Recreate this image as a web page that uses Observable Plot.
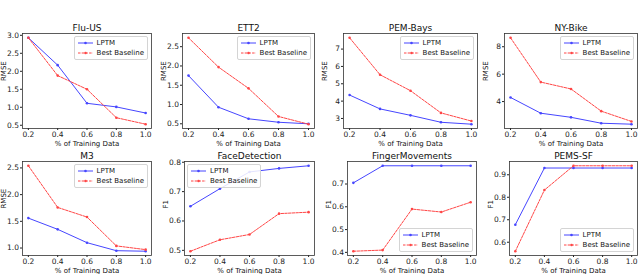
<!DOCTYPE html>
<html><head><meta charset="utf-8">
<script src="https://cdn.jsdelivr.net/npm/d3@7"></script>
<script src="https://cdn.jsdelivr.net/npm/@observablehq/plot@0.6"></script>
<style>
body{margin:0;background:#fff;}
#root{position:relative;width:640px;height:274px;overflow:hidden;font-family:"DejaVu Sans",sans-serif;background:#fff;}
.panel{position:absolute;}
.legend{position:absolute;border:1px solid #d4d4d4;border-radius:2px;background:rgba(255,255,255,0.85);font-size:7px;line-height:10px;padding:1px 3px 1px 3px;color:#111;white-space:nowrap;}
.legend .row{display:flex;align-items:center;height:10px;}
.legend svg{margin-right:4px;}
</style></head><body><div id="root"></div>
<script>
// ---- data ----
const trainFrac = [0.2, 0.4, 0.6, 0.8, 1.0];
const xTicks = [0.2, 0.4, 0.6, 0.8, 1.0];
const seriesNames = ["LPTM", "Best Baseline"];
const titles = ["Flu-US", "ETT2", "PEM-Bays", "NY-Bike", "M3", "FaceDetection", "FingerMovements", "PEMS-SF"];
const yLabels = ["RMSE", "RMSE", "RMSE", "RMSE", "RMSE", "F1", "F1", "F1"];

const fluLPTM  = [2.93, 2.17, 1.11, 1.01, 0.84];
const fluBase  = [2.93, 1.88, 1.50, 0.71, 0.53];
const ettLPTM  = [1.75, 0.93, 0.63, 0.54, 0.50];
const ettBase  = [2.73, 1.97, 1.42, 0.69, 0.49];
const pemLPTM  = [4.35, 3.55, 3.18, 2.78, 2.67];
const pemBase  = [7.65, 5.52, 4.60, 3.32, 2.85];
const bikeLPTM = [4.30, 3.15, 2.85, 2.42, 2.35];
const bikeBase = [8.65, 5.42, 4.92, 3.30, 2.55];
const m3LPTM   = [1.56, 1.35, 1.10, 0.95, 0.94];
const m3Base   = [2.54, 1.76, 1.58, 1.04, 0.97];
const faceLPTM = [0.650, 0.710, 0.767, 0.779, 0.788];
const faceBase = [0.497, 0.536, 0.554, 0.625, 0.630];
const fingLPTM = [0.705, 0.780, 0.780, 0.780, 0.780];
const fingBase = [0.405, 0.410, 0.590, 0.577, 0.620];
const sfLPTM   = [0.678, 0.930, 0.930, 0.930, 0.930];
const sfBase   = [0.560, 0.832, 0.940, 0.940, 0.940];

const yTicks = [
  [0.5, 1.0, 1.5, 2.0, 2.5, 3.0],
  [0.5, 1.0, 1.5, 2.0, 2.5],
  [3, 4, 5, 6, 7],
  [4, 6, 8],
  [1.0, 1.5, 2.0, 2.5],
  [0.5, 0.6, 0.7, 0.8],
  [0.4, 0.5, 0.6, 0.7],
  [0.6, 0.7, 0.8, 0.9]
];
const yFormats = [".1f", ".1f", "d", "d", ".1f", ".1f", ".1f", ".1f"];
const lptmSeries = [fluLPTM, ettLPTM, pemLPTM, bikeLPTM, m3LPTM, faceLPTM, fingLPTM, sfLPTM];
const baseSeries = [fluBase, ettBase, pemBase, bikeBase, m3Base, faceBase, fingBase, sfBase];
const legendLocs = ["upper right", "upper right", "upper right", "upper right", "upper right", "upper left", "lower right", "lower right"];

// ---- layout (frame boxes: left, top, right, bottom) ----
const frames = [
  [22, 33, 151, 128], [182, 33, 314, 128], [343, 33, 477, 128], [504, 33, 637, 128],
  [22, 161, 151, 255], [184, 161, 314, 255], [347, 161, 476, 255], [509, 161, 637, 255]
];
const BLUE = "#4646ff", RED = "#ff4646";
const mL = 26, mR = 3, mT = 18, mB = 19;
const root = document.getElementById("root");

function legendEl(loc) {
  const d = document.createElement("div");
  d.className = "legend";
  const sw = (c, dash) => `<svg width="15" height="6"><line x1="0" x2="15" y1="3" y2="3" stroke="${c}" stroke-width="1" ${dash ? 'stroke-dasharray="2.5,1.2"' : ''}/><circle cx="7.5" cy="3" r="1.3" fill="${c}"/></svg>`;
  d.innerHTML = `<div class="row">${sw(BLUE, false)}<span>${seriesNames[0]}</span></div><div class="row">${sw(RED, true)}<span>${seriesNames[1]}</span></div>`;
  const inset = 3;
  if (loc.includes("upper")) d.style.top = (mT + inset) + "px"; else d.style.bottom = (mB + inset) + "px";
  if (loc.includes("right")) d.style.right = (mR + inset) + "px"; else d.style.left = (mL + inset) + "px";
  return d;
}

titles.forEach((title, i) => {
  const [fl, ft, fr, fb] = frames[i];
  const w = fr - fl + mL + mR, h = fb - ft + mT + mB;
  const rows = trainFrac.map((x, k) => ({x, lptm: lptmSeries[i][k], base: baseSeries[i][k]}));
  const all = lptmSeries[i].concat(baseSeries[i]);
  const [lo, hi] = d3.extent(all);
  const pad = (hi - lo) * 0.05;
  const plot = Plot.plot({
    width: w, height: h,
    marginLeft: mL, marginRight: mR, marginTop: mT, marginBottom: mB,
    style: {fontFamily: '"DejaVu Sans", sans-serif', fontSize: "7.5px", color: "#222", background: "transparent", overflow: "visible"},
    x: {domain: [0.16, 1.04], inset: 0},
    y: {domain: [lo - pad, hi + pad], inset: 0},
    marks: [
      Plot.axisX({ticks: xTicks, tickFormat: d3.format(".1f"), tickSize: 2, tickPadding: 1, label: null, fontSize: 7.5}),
      Plot.axisY({ticks: yTicks[i], tickFormat: d3.format(yFormats[i]), tickSize: 2, tickPadding: 1.5, label: null, fontSize: 7.5}),
      Plot.line(rows, {x: "x", y: "lptm", stroke: BLUE, strokeWidth: 1}),
      Plot.dot(rows, {x: "x", y: "lptm", r: 1.3, fill: BLUE}),
      Plot.line(rows, {x: "x", y: "base", stroke: RED, strokeWidth: 1, strokeDasharray: "2.5,1.2"}),
      Plot.dot(rows, {x: "x", y: "base", r: 1.3, fill: RED}),
      Plot.frame({stroke: "#333", strokeWidth: 0.8}),
      Plot.text([title], {frameAnchor: "top", dy: -3, lineAnchor: "bottom", fontSize: 9, fill: "#111", text: d => d}),
      Plot.text([yLabels[i]], {frameAnchor: "left", rotate: -90, dx: -19, fontSize: 7, fill: "#111", text: d => d}),
      Plot.text(["% of Training Data"], {frameAnchor: "bottom", dy: 15, lineAnchor: "middle", fontSize: 7, fill: "#111", text: d => d})
    ]
  });
  const div = document.createElement("div");
  div.className = "panel";
  div.style.left = (fl - mL) + "px";
  div.style.top = (ft - mT) + "px";
  div.style.width = w + "px";
  div.style.height = h + "px";
  div.appendChild(plot);
  div.appendChild(legendEl(legendLocs[i]));
  root.appendChild(div);
});
</script>
</body></html>
